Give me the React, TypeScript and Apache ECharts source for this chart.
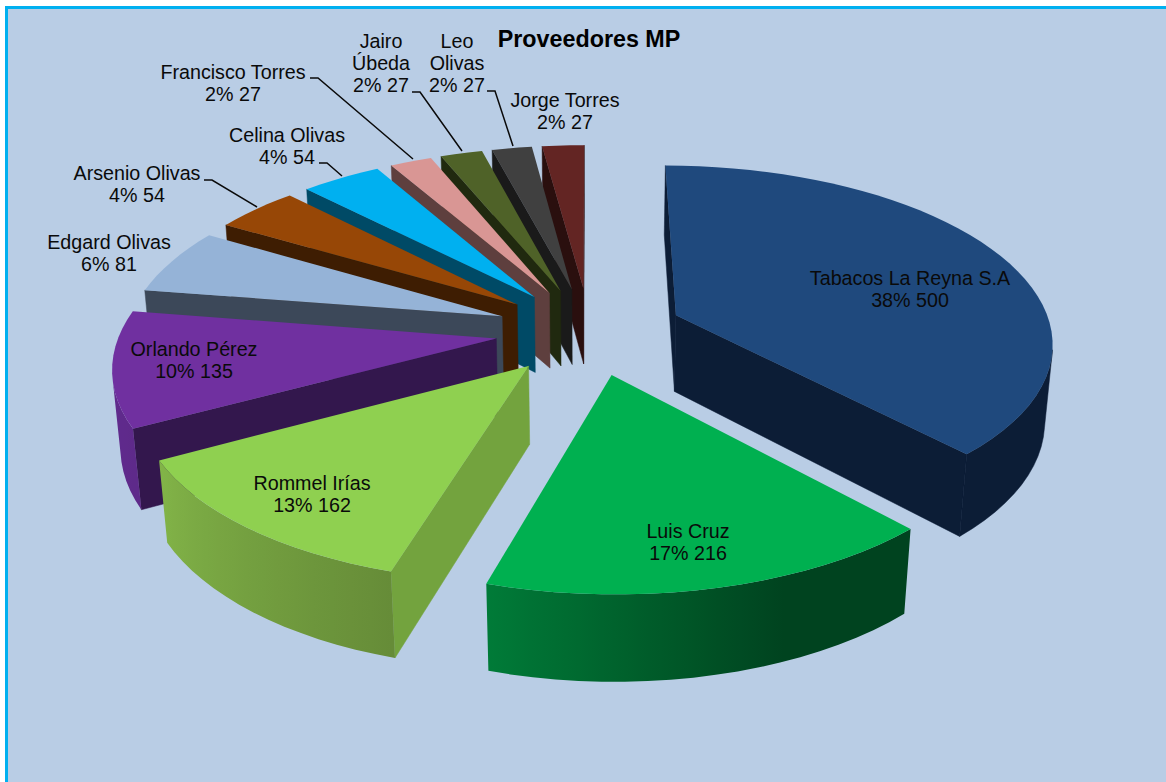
import React, { useEffect, useRef } from "react";
import * as echarts from "echarts";

// Supplier purchases: name, units and share of the total in percent.
const suppliers = [
  "Tabacos La Reyna S.A",
  "Luis Cruz",
  "Rommel Irías",
  "Orlando Pérez",
  "Edgard Olivas",
  "Arsenio Olivas",
  "Celina Olivas",
  "Francisco Torres",
  "Jairo Úbeda",
  "Leo Olivas",
  "Jorge Torres",
];
const amounts = [500, 216, 162, 135, 81, 54, 54, 27, 27, 27, 27];
const shares = [38.1, 16.5, 12.5, 10.4, 6, 4.2, 4, 2.1, 2.1, 2, 2.1];

// Surface colours, one per slice.
const topColors = ["#1F497D", "#00B050", "#8FD050", "#7030A0", "#95B3D7", "#974706", "#00B0F0", "#D99694", "#4F6228", "#404040", "#632523"];
const sideColors = ["#0C1D36", "#00421F", "#73A33E", "#33174D", "#3C4859", "#3E1D02", "#004A66", "#5E3F3E", "#20290F", "#1A1A1A", "#2A0F0E"];
// Rim shading along each slice's arc, as [position along arc, colour].
const rimStops: Record<number, [number, string][]> = {
  1: [[0, "#00431F"], [0.36, "#00431F"], [1, "#007B38"]],
  2: [[0, "#668C38"], [1, "#82B448"]],
  3: [[0, "#5E2A8A"], [1, "#662D94"]],
};

// Label anchors and leader lines, by slice index.
const labelLayout: { x: number; y: number; breakName?: boolean; leader?: number[][] }[] = [
  { x: 910, y: 289 },
  { x: 688, y: 542 },
  { x: 312, y: 494 },
  { x: 194, y: 360 },
  { x: 109, y: 253 },
  { x: 137, y: 184, leader: [[204, 180], [212, 180], [257, 207]] },
  { x: 287, y: 146, leader: [[319, 163], [327, 163], [342, 176]] },
  { x: 233, y: 83, leader: [[310, 78], [318, 78], [413, 159]] },
  { x: 381, y: 63, breakName: true, leader: [[412, 92], [420, 92], [462, 151]] },
  { x: 457, y: 63, breakName: true, leader: [[487, 91], [495, 91], [513, 146]] },
  { x: 565, y: 111 },
];

// Camera used to project the tilted, exploded pie onto the page.
const CX = 589.5;
const CY = 331;
const SCALE = 376;
const DISTANCE = 6.3;
const SIN_E = 0.465;
const COS_E = 0.885;
const THICKNESS = 0.235;
const EXPLODE = 0.25;

const project = (X: number, Y: number, h: number): number[] => {
  const s = DISTANCE / (DISTANCE + Y * COS_E + h * SIN_E);
  return [CX + X * SCALE * s, CY + (-Y * SIN_E + h * COS_E) * SCALE * s];
};

const area = (pts: number[][]): number => {
  let sum = 0;
  pts.forEach((p, k) => {
    const q = pts[(k + 1) % pts.length];
    sum += p[0] * q[1] - q[0] * p[1];
  });
  return sum;
};

const parseHex = (c: string) => [1, 3, 5].map((k) => parseInt(c.slice(k, k + 2), 16));
const mixStops = (stops: [number, string][], t: number): string => {
  let k = 0;
  while (k < stops.length - 2 && t > stops[k + 1][0]) k++;
  const [t0, c0] = stops[k];
  const [t1, c1] = stops[k + 1];
  const u = Math.min(1, Math.max(0, (t - t0) / (t1 - t0)));
  const a = parseHex(c0);
  const b = parseHex(c1);
  return `rgb(${a.map((v, n) => Math.round(v + (b[n] - v) * u)).join(",")})`;
};

const shareTotal = shares.reduce((a, b) => a + b, 0);
const sliceSpans = (() => {
  let running = 0;
  return shares.map((v) => {
    const start = (running / shareTotal) * Math.PI * 2;
    running += v;
    return { start, end: (running / shareTotal) * Math.PI * 2 };
  });
})();

// Back slices are painted first so nearer ones cover them.
const paintOrder = suppliers
  .map((_, i) => i)
  .sort((a, b) => {
    const mid = (i: number) => (sliceSpans[i].start + sliceSpans[i].end) / 2;
    return Math.cos(mid(b)) - Math.cos(mid(a));
  });

// A flat side gets a hairline in its own colour so adjoining faces leave no seam.
const poly = (points: number[][], fill: any) => ({
  type: "polygon",
  silent: true,
  shape: { points },
  style: typeof fill === "string" ? { fill, stroke: fill, lineWidth: 0.5 } : { fill },
});

// Horizontal gradient following the shading of the visible part of a rim.
const rimFill = (i: number, samples: { x: number; t: number }[]) => {
  const stops = rimStops[i];
  if (!stops || samples.length < 2) return sideColors[i];
  const xs = samples.map((s) => s.x);
  const x0 = Math.min(...xs);
  const x1 = Math.max(...xs);
  const colorStops = samples
    .map((s) => ({ offset: (s.x - x0) / (x1 - x0), color: mixStops(stops, s.t) }))
    .sort((a, b) => a.offset - b.offset);
  return { type: "linear", global: true, x: x0, y: 0, x2: x1, y2: 0, colorStops };
};

const renderSlice = (_: unknown, api: any) => {
  const i = api.value(0);
  const { start, end } = sliceSpans[i];
  const mid = (start + end) / 2;
  const ax = EXPLODE * Math.sin(mid);
  const ay = EXPLODE * Math.cos(mid);
  const rimAt = (t: number, h: number) => project(ax + Math.sin(t), ay + Math.cos(t), h);
  const steps = Math.max(3, Math.ceil((end - start) / (Math.PI / 60)));
  const angle = (k: number) => start + ((end - start) * k) / steps;
  const children: any[] = [];

  const wall = (t: number) => [project(ax, ay, 0), rimAt(t, 0), rimAt(t, THICKNESS), project(ax, ay, THICKNESS)];
  const startWall = wall(start);
  const endWall = wall(end);
  if (area(startWall) < 0) children.push(poly(startWall, sideColors[i]));
  if (area(endWall) > 0) children.push(poly(endWall, sideColors[i]));

  // Outer rim: one polygon over the facets that face the camera.
  const facing: number[] = [];
  for (let k = 0; k < steps; k++) {
    const a = angle(k);
    const b = angle(k + 1);
    const quad = [rimAt(a, 0), rimAt(b, 0), rimAt(b, THICKNESS), rimAt(a, THICKNESS)];
    if (area(quad) < 0) facing.push(k);
  }
  if (facing.length) {
    const first = facing[0];
    const last = facing[facing.length - 1] + 1;
    const upper: number[][] = [];
    const lower: number[][] = [];
    const samples: { x: number; t: number }[] = [];
    for (let k = first; k <= last; k++) {
      const p = rimAt(angle(k), 0);
      upper.push(p);
      lower.unshift(rimAt(angle(k), THICKNESS));
      samples.push({ x: p[0], t: k / steps });
    }
    children.push(poly([...upper, ...lower], rimFill(i, samples)));
  }

  const top = [project(ax, ay, 0)];
  for (let k = 0; k <= steps; k++) top.push(rimAt(angle(k), 0));
  children.push({ type: "polygon", silent: true, shape: { points: top }, style: { fill: topColors[i] } });
  return { type: "group", children };
};

const renderLabel = (_: unknown, api: any) => {
  const i = api.value(0);
  const place = labelLayout[i];
  const name = place.breakName ? suppliers[i].replace(" ", "\n") : suppliers[i];
  const children: any[] = [];
  if (place.leader) {
    children.push({
      type: "polyline",
      silent: true,
      shape: { points: place.leader },
      style: { stroke: "#0A0A0A", lineWidth: 1.5, fill: "none" },
    });
  }
  children.push({
    type: "text",
    silent: true,
    style: {
      x: place.x,
      y: place.y,
      text: `${name}\n${Math.round(shares[i])}% ${amounts[i]}`,
      fill: "#0A0A0A",
      fontFamily: "Liberation Sans",
      fontSize: 19.7,
      lineHeight: 22,
      align: "center",
      verticalAlign: "middle",
    },
  });
  return { type: "group", children };
};

export default function App() {
  const ref = useRef<HTMLDivElement>(null);
  useEffect(() => {
    const chart = echarts.init(ref.current!, undefined, { renderer: "svg" });
    chart.setOption({
      animation: false,
      backgroundColor: "#FFFFFF",
      title: {
        text: "Proveedores MP",
        left: 584,
        top: 22,
        textAlign: "center",
        textStyle: { fontFamily: "Liberation Sans", fontSize: 23.3, fontWeight: "bold", color: "#000000" },
      },
      graphic: [
        {
          type: "rect",
          silent: true,
          shape: { x: 6.5, y: 7.5, width: 1300, height: 900 },
          style: { fill: "#B9CDE5", stroke: "#00B0F0", lineWidth: 3 },
        },
      ],
      series: [
        {
          type: "custom",
          coordinateSystem: "none",
          z: 2,
          silent: true,
          data: paintOrder.map((i) => [i, amounts[i], shares[i]]),
          renderItem: renderSlice,
        },
        {
          type: "custom",
          coordinateSystem: "none",
          z: 3,
          silent: true,
          data: suppliers.map((_, i) => [i]),
          renderItem: renderLabel,
        },
      ],
    });
    return () => chart.dispose();
  }, []);
  return <div ref={ref} style={{ position: "fixed", left: 0, top: 0, width: 1166, height: 782 }} />;
}
